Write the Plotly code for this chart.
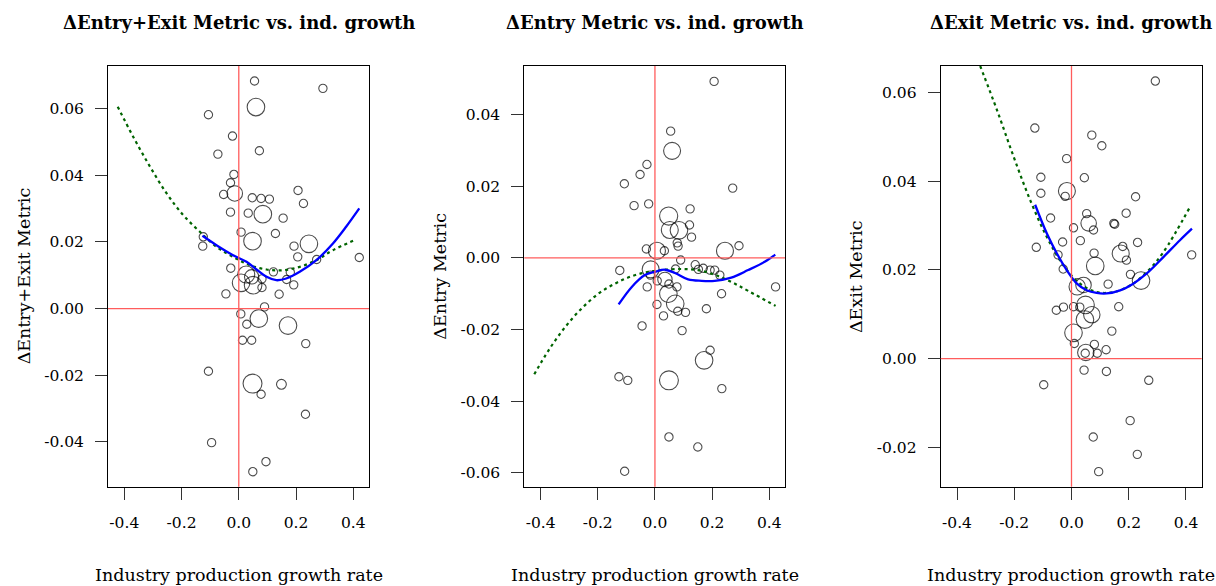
import plotly.graph_objects as go
import numpy as np

# ---------------- data ----------------
# Panel 1: ΔEntry+Exit Metric
p1_x = [0.055, 0.294, 0.060, -0.106, -0.022, 0.072, -0.073, -0.017, -0.029, -0.014,
        -0.053, 0.047, 0.078, 0.107, 0.207, 0.226, -0.029, 0.033, 0.084, 0.155,
        0.008, 0.128, 0.048, 0.245, -0.124, -0.126, 0.193, 0.206, 0.272, 0.421,
        -0.028, 0.121, 0.180, 0.026, 0.045, 0.008, 0.050, 0.081, 0.081, 0.167,
        0.192, -0.045, 0.141, 0.090, 0.007, 0.070, 0.028, 0.172, 0.013, 0.045,
        0.234, -0.106, 0.048, 0.149, 0.078, 0.233, -0.095, 0.095, 0.049]
p1_y = [0.0682, 0.0660, 0.0604, 0.0581, 0.0517, 0.0473, 0.0463, 0.0402, 0.0377, 0.0345,
        0.0342, 0.0332, 0.0330, 0.0328, 0.0354, 0.0315, 0.0289, 0.0286, 0.0283, 0.0271,
        0.0229, 0.0225, 0.0202, 0.0194, 0.0215, 0.0187, 0.0187, 0.0155, 0.0147, 0.0153,
        0.0121, 0.0110, 0.0109, 0.0102, 0.0095, 0.0077, 0.0070, 0.0089, 0.0063, 0.0087,
        0.0071, 0.0044, 0.0043, 0.0005, -0.0016, -0.0030, -0.0047, -0.0051, -0.0095, -0.0095,
        -0.0105, -0.0188, -0.0225, -0.0227, -0.0257, -0.0317, -0.0402, -0.0459, -0.0489]
p1_w = [1, 1, 4.5, 1, 1, 1, 1, 1, 1, 3.5,
        1, 1, 1, 1, 1, 1, 1, 1, 4.5, 1,
        1, 1, 4.5, 4.5, 1, 1, 1, 1, 1, 1,
        1, 1, 1, 4.2, 3, 4.5, 4.5, 1, 1, 1,
        1, 1, 1, 1, 1, 4.5, 1, 4.5, 1, 1,
        1, 1, 5.2, 1.4, 1, 1, 1, 1, 1]
p1_loess_x = [-0.127, -0.078, -0.020, 0.027, 0.062, 0.097, 0.131, 0.166, 0.213, 0.271, 0.329, 0.375, 0.421]
p1_loess_y = [0.0218, 0.0190, 0.0160, 0.0140, 0.0117, 0.0095, 0.0085, 0.0090, 0.0110, 0.0145, 0.0195, 0.0245, 0.0300]
p1_quad_x = [-0.423, -0.369, -0.310, -0.252, -0.194, -0.136, -0.078, -0.020, 0.038, 0.097, 0.155, 0.213, 0.271, 0.329, 0.405]
p1_quad_y = [0.0605, 0.0515, 0.0425, 0.0345, 0.0280, 0.0230, 0.0185, 0.0155, 0.0130, 0.0117, 0.0115, 0.0125, 0.0145, 0.0175, 0.0205]

# Panel 2: ΔEntry Metric
p2_x = [0.207, 0.055, 0.060, -0.028, -0.052, -0.107, 0.272, -0.073, -0.022, 0.048,
        0.123, 0.052, 0.084, 0.121, 0.128, 0.078, 0.081, -0.030, 0.007, 0.033,
        0.245, 0.294, 0.090, -0.015, -0.123, 0.072, 0.141, 0.152, 0.169, 0.193,
        0.209, 0.227, -0.016, 0.008, 0.035, 0.049, 0.047, 0.077, -0.027, 0.422,
        0.233, 0.071, 0.007, 0.080, 0.107, 0.030, 0.180, -0.045, 0.095, 0.193,
        0.172, -0.126, -0.095, 0.049, 0.234, 0.049, 0.150, -0.106]
p2_y = [0.0493, 0.0354, 0.0299, 0.0261, 0.0233, 0.0207, 0.0195, 0.0146, 0.0151, 0.0117,
        0.0137, 0.0078, 0.0077, 0.0092, 0.0058, 0.0042, 0.0033, 0.0025, 0.0020, 0.0020,
        0.0020, 0.0034, -0.0006, -0.0032, -0.0035, -0.0031, -0.0019, -0.0032, -0.0029, -0.0034,
        -0.0034, -0.0048, -0.0048, -0.0064, -0.0060, -0.0073, -0.0100, -0.0081, -0.0081, -0.0081,
        -0.0100, -0.0128, -0.0130, -0.0149, -0.0152, -0.0162, -0.0142, -0.0190, -0.0203, -0.0258,
        -0.0286, -0.0332, -0.0342, -0.0342, -0.0365, -0.0500, -0.0528, -0.0596]
p2_w = [1, 1, 4.2, 1, 1, 1, 1, 1, 1, 4.8,
        1, 4.2, 4.5, 1, 1, 1, 1, 1, 4.2, 1,
        4.2, 1, 1, 4.2, 1, 1, 1, 1, 1, 1,
        1, 1, 1, 1, 3, 1, 4.5, 1, 1, 1,
        1, 4.5, 1, 1, 1, 1, 1, 1, 1, 1,
        4.5, 1, 1, 5.2, 1, 1, 1, 1]
p2_loess_x = [-0.127, -0.081, -0.035, 0.000, 0.035, 0.070, 0.116, 0.163, 0.209, 0.267, 0.326, 0.384, 0.421]
p2_loess_y = [-0.0130, -0.0081, -0.0048, -0.0039, -0.0033, -0.0042, -0.0060, -0.0064, -0.0064, -0.0055, -0.0034, -0.0011, 0.0009]
p2_quad_x = [-0.422, -0.372, -0.314, -0.256, -0.198, -0.140, -0.081, -0.023, 0.035, 0.093, 0.151, 0.209, 0.267, 0.326, 0.422]
p2_quad_y = [-0.0325, -0.0258, -0.0193, -0.0141, -0.0100, -0.0072, -0.0051, -0.0039, -0.0033, -0.0031, -0.0034, -0.0047, -0.0067, -0.0092, -0.0134]

# Panel 3: ΔExit Metric
p3_x = [0.293, -0.128, 0.071, 0.106, -0.017, -0.107, 0.045, -0.016, -0.107, -0.022,
        0.224, 0.191, 0.053, -0.073, 0.060, 0.077, 0.007, 0.148, 0.151, 0.031,
        -0.031, 0.231, -0.123, 0.179, 0.172, 0.192, 0.079, -0.047, 0.420, 0.083,
        -0.029, 0.206, 0.128, 0.243, 0.042, 0.020, 0.165, -0.053, -0.028, 0.007,
        0.029, 0.049, 0.071, 0.047, 0.007, 0.141, 0.010, 0.080, 0.121, 0.050,
        0.048, 0.090, 0.044, 0.122, -0.097, 0.270, 0.205, 0.076, 0.230, 0.095]
p3_y = [0.0626, 0.0520, 0.0504, 0.0480, 0.0451, 0.0409, 0.0408, 0.0378, 0.0373, 0.0366,
        0.0365, 0.0328, 0.0327, 0.0317, 0.0305, 0.0290, 0.0295, 0.0305, 0.0303, 0.0266,
        0.0263, 0.0262, 0.0251, 0.0253, 0.0237, 0.0222, 0.0238, 0.0234, 0.0234, 0.0209,
        0.0202, 0.0190, 0.0168, 0.0176, 0.0166, 0.0162, 0.0117, 0.0109, 0.0116, 0.0117,
        0.0116, 0.0121, 0.0099, 0.0088, 0.0058, 0.0062, 0.0034, 0.0032, 0.0020, 0.0014,
        0.0012, 0.0012, -0.0026, -0.0029, -0.0059, -0.0049, -0.0140, -0.0177, -0.0216, -0.0255]
p3_w = [1, 1, 1, 1, 1, 1, 1, 4.2, 1, 1,
        1, 1, 1, 1, 3.5, 1, 1, 1, 1, 1,
        1, 1, 1, 1, 4.2, 1, 1, 1, 1, 4.5,
        1, 1, 1, 4.5, 3.5, 3.9, 1, 1, 1, 1,
        1, 4.5, 3.9, 4.5, 4.5, 1, 1, 1, 1, 3.9,
        1, 1, 1, 1, 1, 1, 1, 1, 1, 1]
p3_loess_x = [-0.127, -0.086, -0.051, -0.016, 0.019, 0.053, 0.088, 0.123, 0.170, 0.216, 0.263, 0.321, 0.379, 0.421]
p3_loess_y = [0.0347, 0.0282, 0.0237, 0.0199, 0.0169, 0.0154, 0.0148, 0.0147, 0.0154, 0.0169, 0.0192, 0.0229, 0.0267, 0.0293]
p3_quad_x = [-0.319, -0.260, -0.202, -0.144, -0.086, -0.028, 0.030, 0.088, 0.147, 0.205, 0.263, 0.321, 0.414]
p3_quad_y = [0.0660, 0.0560, 0.0455, 0.0357, 0.0274, 0.0210, 0.0169, 0.0150, 0.0150, 0.0165, 0.0195, 0.0240, 0.0342]

titles = ["\u0394Entry+Exit Metric vs. ind. growth",
          "\u0394Entry Metric vs. ind. growth",
          "\u0394Exit Metric vs. ind. growth"]
ytitles = ["\u0394Entry+Exit Metric", "\u0394Entry Metric", "\u0394Exit Metric"]
xtitle = "Industry production growth rate"

x_tickvals = [-0.4, -0.2, 0.0, 0.2, 0.4]
x_ticktext = ["-0.4", "-0.2", "0.0", "0.2", "0.4"]
y_ticks = [
    ([0.06, 0.04, 0.02, 0.0, -0.02, -0.04], ["0.06", "0.04", "0.02", "0.00", "-0.02", "-0.04"]),
    ([0.04, 0.02, 0.0, -0.02, -0.04, -0.06], ["0.04", "0.02", "0.00", "-0.02", "-0.04", "-0.06"]),
    ([0.06, 0.04, 0.02, 0.0, -0.02], ["0.06", "0.04", "0.02", "0.00", "-0.02"]),
]
x_range = [-0.457, 0.455]
y_ranges = [[-0.0534, 0.0727], [-0.0639, 0.0536], [-0.0289, 0.0660]]

# ---------------- layout geometry ----------------
W, H = 1216, 586
box_left = [108, 524.3, 940.7]
box_right = [369, 785, 1201.7]
box_top, box_bottom = 66, 486.7
FONT = "DejaVu Serif"

panels = [
    (p1_x, p1_y, p1_w, p1_loess_x, p1_loess_y, p1_quad_x, p1_quad_y),
    (p2_x, p2_y, p2_w, p2_loess_x, p2_loess_y, p2_quad_x, p2_quad_y),
    (p3_x, p3_y, p3_w, p3_loess_x, p3_loess_y, p3_quad_x, p3_quad_y),
]

fig = go.Figure()
annotations = []
shapes = []
for i, (px, py, pw, lx, ly, qx, qy) in enumerate(panels):
    xa = "x" if i == 0 else f"x{i+1}"
    ya = "y" if i == 0 else f"y{i+1}"
    sizes = [8.3 * np.sqrt(w) for w in pw]
    fig.add_trace(go.Scatter(x=px, y=py, mode="markers", xaxis=xa, yaxis=ya,
                             marker=dict(symbol="circle-open", size=sizes, color="black",
                                         line=dict(width=1.1, color="black")),
                             showlegend=False, hoverinfo="skip"))
    fig.add_trace(go.Scatter(x=qx, y=qy, mode="lines", xaxis=xa, yaxis=ya,
                             line=dict(color="#006400", width=2.2, dash="3px,3.5px", shape="spline"),
                             showlegend=False, hoverinfo="skip"))
    fig.add_trace(go.Scatter(x=lx, y=ly, mode="lines", xaxis=xa, yaxis=ya,
                             line=dict(color="#0000FF", width=2.3, shape="spline"),
                             showlegend=False, hoverinfo="skip"))

    dx = [box_left[i] / W, box_right[i] / W]
    dy = [1 - box_bottom / H, 1 - box_top / H]
    axis_common = dict(showgrid=False, zeroline=False, showline=True, linecolor="black",
                       linewidth=1, mirror=True, ticks="outside", ticklen=12, tickwidth=1,
                       tickcolor="#333333", fixedrange=True,
                       tickfont=dict(family=FONT, size=15.5, color="black"))
    xkey = "xaxis" if i == 0 else f"xaxis{i+1}"
    ykey = "yaxis" if i == 0 else f"yaxis{i+1}"
    fig.update_layout(**{
        xkey: dict(domain=dx, range=x_range, anchor=ya, tickvals=x_tickvals,
                   ticktext=x_ticktext, ticklabelstandoff=10, **axis_common),
        ykey: dict(domain=dy, range=y_ranges[i], anchor=xa, tickvals=y_ticks[i][0],
                   ticktext=y_ticks[i][1], ticklabelstandoff=8, **axis_common),
    })
    # red reference lines
    shapes.append(dict(type="line", xref=f"{xa} domain", yref=ya, x0=0, x1=1, y0=0, y1=0,
                       line=dict(color="#FF5C5C", width=1.3), layer="above"))
    shapes.append(dict(type="line", xref=xa, yref=f"{ya} domain", x0=0, x1=0, y0=0, y1=1,
                       line=dict(color="#FF5C5C", width=1.3), layer="above"))
    cx = (box_left[i] + box_right[i]) / 2 / W
    annotations.append(dict(text="<b>" + titles[i] + "</b>", x=cx, y=1 - 22 / H, xref="paper",
                            yref="paper", showarrow=False, xanchor="center", yanchor="middle",
                            font=dict(family=FONT, size=18, color="black")))
    annotations.append(dict(text=xtitle, x=cx, y=1 - 575 / H, xref="paper", yref="paper",
                            showarrow=False, xanchor="center", yanchor="middle",
                            font=dict(family=FONT, size=17.5, color="black")))
    annotations.append(dict(text=ytitles[i], x=(box_left[i] - 84) / W,
                            y=1 - (box_top + box_bottom) / 2 / H, xref="paper", yref="paper",
                            showarrow=False, xanchor="center", yanchor="middle", textangle=-90,
                            font=dict(family=FONT, size=17.5, color="black")))

fig.update_layout(width=W, height=H, margin=dict(l=0, r=0, t=0, b=0),
                  paper_bgcolor="white", plot_bgcolor="white", hovermode=False,
                  annotations=annotations, shapes=shapes, showlegend=False)
fig.write_html("out.html", config={"displayModeBar": False},
               post_script="document.body.style.margin='0px';")
